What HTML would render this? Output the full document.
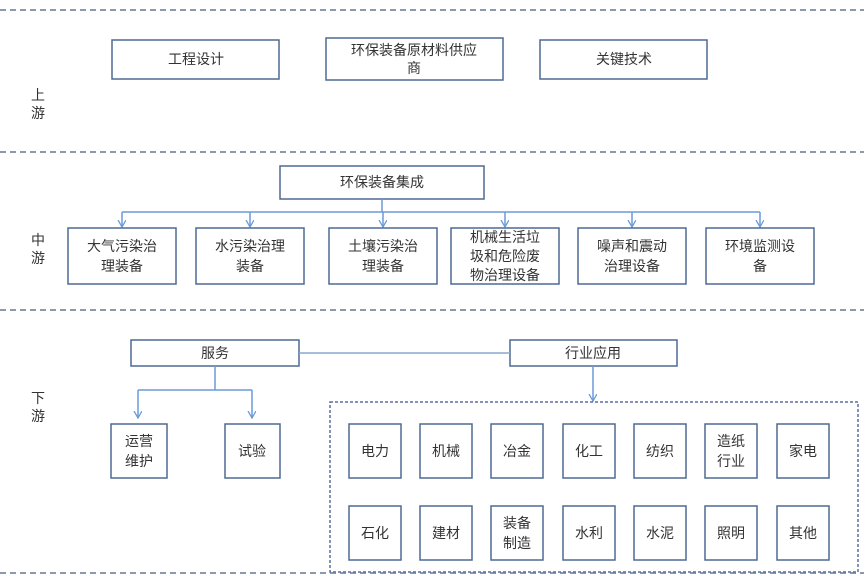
<!DOCTYPE html>
<html><head><meta charset="utf-8"><style>
body{margin:0;background:#fff;}
svg text{font-family:"Liberation Sans","Noto Sans CJK SC",sans-serif;font-size:14px;fill:#333;text-anchor:middle;}
.b{fill:#fff;stroke:#4f6a94;stroke-width:1.5;}
.l{stroke:#6b9bd8;stroke-width:1.5;fill:none;}
.d{stroke:#8a9aaa;stroke-width:2;stroke-dasharray:6,4;}
</style></head><body>
<svg width="864" height="582" viewBox="0 0 864 582">
<defs><marker id="a" markerWidth="8" markerHeight="10" refX="7" refY="4" orient="auto" markerUnits="userSpaceOnUse"><path d="M0,0 L7,4 L0,8" fill="none" stroke="#6b9bd8" stroke-width="1.3"/></marker></defs>
<line class="d" x1="0" y1="10" x2="864" y2="10"/>
<line class="d" x1="0" y1="152" x2="864" y2="152"/>
<line class="d" x1="0" y1="310" x2="864" y2="310"/>
<line class="d" x1="0" y1="573" x2="864" y2="573"/>
<text x="38" y="100">上</text><text x="38" y="118">游</text>
<text x="38" y="245">中</text><text x="38" y="263">游</text>
<text x="38" y="403">下</text><text x="38" y="421">游</text>
<rect class="b" x="112" y="40" width="167" height="39"/><text x="196" y="64">工程设计</text>
<rect class="b" x="326" y="38" width="177" height="42"/><text x="414" y="55">环保装备原材料供应</text><text x="414" y="73">商</text>
<rect class="b" x="540" y="40" width="167" height="39"/><text x="624" y="64">关键技术</text>
<rect class="b" x="280" y="166" width="204" height="33"/><text x="382" y="187">环保装备集成</text>
<path class="l" d="M382,199 V212 M122,212 H760"/>
<line class="l" x1="122" y1="212" x2="122" y2="227" marker-end="url(#a)"/><line class="l" x1="250" y1="212" x2="250" y2="227" marker-end="url(#a)"/><line class="l" x1="383" y1="212" x2="383" y2="227" marker-end="url(#a)"/><line class="l" x1="505" y1="212" x2="505" y2="227" marker-end="url(#a)"/><line class="l" x1="632" y1="212" x2="632" y2="227" marker-end="url(#a)"/><line class="l" x1="760" y1="212" x2="760" y2="227" marker-end="url(#a)"/>
<rect class="b" x="68" y="228" width="108" height="56"/><text x="122" y="251">大气污染治</text><text x="122" y="271">理装备</text>
<rect class="b" x="196" y="228" width="108" height="56"/><text x="250" y="251">水污染治理</text><text x="250" y="271">装备</text>
<rect class="b" x="329" y="228" width="108" height="56"/><text x="383" y="251">土壤污染治</text><text x="383" y="271">理装备</text>
<rect class="b" x="451" y="228" width="108" height="56"/><text x="505" y="242">机械生活垃</text><text x="505" y="261">圾和危险废</text><text x="505" y="280">物治理设备</text>
<rect class="b" x="578" y="228" width="108" height="56"/><text x="632" y="251">噪声和震动</text><text x="632" y="271">治理设备</text>
<rect class="b" x="706" y="228" width="108" height="56"/><text x="760" y="251">环境监测设</text><text x="760" y="271">备</text>
<rect class="b" x="131" y="340" width="168" height="26"/><text x="215" y="358">服务</text>
<rect class="b" x="510" y="340" width="167" height="26"/><text x="593" y="358">行业应用</text>
<line class="l" x1="299" y1="353" x2="510" y2="353" style="stroke:#8aa8cf"/>
<path class="l" d="M215,366 V390 M138,390 H252"/>
<line class="l" x1="138" y1="390" x2="138" y2="418" marker-end="url(#a)"/>
<line class="l" x1="252" y1="390" x2="252" y2="418" marker-end="url(#a)"/>
<line class="l" x1="593" y1="366" x2="593" y2="401" marker-end="url(#a)"/>
<rect class="b" x="111" y="424" width="56" height="54"/><text x="139" y="446">运营</text><text x="139" y="466">维护</text>
<rect class="b" x="225" y="424" width="55" height="54"/><text x="252" y="456">试验</text>
<rect x="330" y="402" width="528" height="170" fill="none" stroke="#5a6fa0" stroke-width="1.5" stroke-dasharray="3,2"/>
<g>
<rect class="b" x="349" y="424" width="52" height="54"/><text x="375" y="456">电力</text>
<rect class="b" x="420" y="424" width="52" height="54"/><text x="446" y="456">机械</text>
<rect class="b" x="491" y="424" width="52" height="54"/><text x="517" y="456">冶金</text>
<rect class="b" x="563" y="424" width="52" height="54"/><text x="589" y="456">化工</text>
<rect class="b" x="634" y="424" width="52" height="54"/><text x="660" y="456">纺织</text>
<rect class="b" x="705" y="424" width="52" height="54"/><text x="731" y="446">造纸</text><text x="731" y="466">行业</text>
<rect class="b" x="777" y="424" width="52" height="54"/><text x="803" y="456">家电</text>
<rect class="b" x="349" y="506" width="52" height="54"/><text x="375" y="538">石化</text>
<rect class="b" x="420" y="506" width="52" height="54"/><text x="446" y="538">建材</text>
<rect class="b" x="491" y="506" width="52" height="54"/><text x="517" y="528">装备</text><text x="517" y="548">制造</text>
<rect class="b" x="563" y="506" width="52" height="54"/><text x="589" y="538">水利</text>
<rect class="b" x="634" y="506" width="52" height="54"/><text x="660" y="538">水泥</text>
<rect class="b" x="705" y="506" width="52" height="54"/><text x="731" y="538">照明</text>
<rect class="b" x="777" y="506" width="52" height="54"/><text x="803" y="538">其他</text>
</g>
</svg>
</body></html>
